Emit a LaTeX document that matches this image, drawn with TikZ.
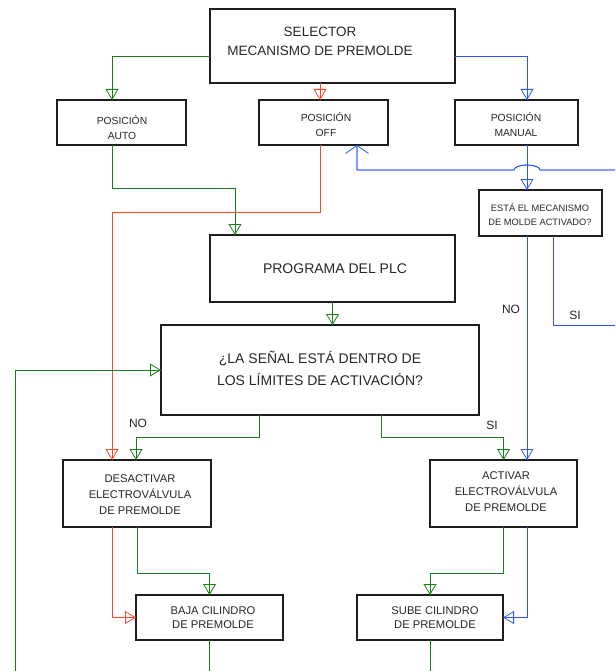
\documentclass[tikz,border=0pt]{standalone}
\usepackage{fontspec}
\setmainfont{Liberation Sans}
\usetikzlibrary{arrows.meta}
\definecolor{cg}{RGB}{25,125,25}
\definecolor{cr}{RGB}{255,70,40}
\definecolor{cb}{RGB}{45,85,255}
\definecolor{cbox}{RGB}{30,30,30}
\tikzset{
  box/.style={draw=cbox, line width=1.1pt, inner sep=0pt, outer sep=0pt},
  txt/.style={inner sep=0pt, align=center, text=black!85},
  big/.style={font=\fontsize{13.5}{19}\selectfont},
  bigq/.style={font=\fontsize{14}{22}\selectfont},
  mid/.style={font=\fontsize{11.2}{16}\selectfont},
  sml/.style={font=\fontsize{10.3}{15}\selectfont},
  tiny/.style={font=\fontsize{9.3}{14}\selectfont},
  lbl/.style={inner sep=0pt, text=black!85, font=\fontsize{12}{14}\selectfont},
  ln/.style={line width=0.8pt},
  arr/.style={ln, -{Triangle[open,length=11pt,width=13pt,line width=0.8pt]}, postaction={draw,-}},
  barb/.style={ln, -{Straight Barb[length=8pt,width=23pt,line width=0.8pt]}, postaction={draw,-}},
}
\begin{document}
\begin{tikzpicture}[x=1pt,y=-1pt]
\useasboundingbox (0,0) rectangle (615,671);
% boxes
\node[box, minimum width=245pt, minimum height=74pt] (sel) at (332.5,46) {};
\node[box, minimum width=129pt, minimum height=45pt] (auto) at (121.5,122.5) {};
\node[box, minimum width=129pt, minimum height=45pt] (off) at (323.5,122.5) {};
\node[box, minimum width=123pt, minimum height=45pt] (man) at (516.5,122.5) {};
\node[box, minimum width=123pt, minimum height=46pt] (esta) at (540.5,213) {};
\node[box, minimum width=245pt, minimum height=67pt] (plc) at (332.5,268.5) {};
\node[box, minimum width=318pt, minimum height=90pt] (sen) at (320,370) {};
\node[box, minimum width=148pt, minimum height=67pt] (des) at (137,493.5) {};
\node[box, minimum width=147pt, minimum height=67pt] (act) at (503.5,493.5) {};
\node[box, minimum width=147pt, minimum height=45pt] (baja) at (209.5,617.5) {};
\node[box, minimum width=146pt, minimum height=45pt] (sube) at (430,617.5) {};
% texts
\node[txt, big] (selT) at (320,41.5) {SELECTOR\\MECANISMO DE PREMOLDE};
\node[txt, sml] (autoT) at (122,127.5) {POSICIÓN\\AUTO};
\node[txt, sml] (offT) at (326,124.5) {POSICIÓN\\OFF};
\node[txt, sml] (manT) at (516,124.5) {POSICIÓN\\MANUAL};
\node[txt, tiny] (estaT) at (540,215) {ESTÁ EL MECANISMO\\DE MOLDE ACTIVADO?};
\node[txt, bigq] (plcT) at (335,269) {PROGRAMA DEL PLC};
\node[txt, bigq] (senT) at (320,368) {¿LA SEÑAL ESTÁ DENTRO DE\\LOS LÍMITES DE ACTIVACIÓN?};
\node[txt, mid] (desT) at (140,495) {DESACTIVAR\\ELECTROVÁLVULA\\DE PREMOLDE};
\node[txt, mid] (actT) at (506,491.5) {ACTIVAR\\ELECTROVÁLVULA\\DE PREMOLDE};
\node[txt, mid, font=\fontsize{11.2}{14}\selectfont] (bajaT) at (213,618) {BAJA CILINDRO\\DE PREMOLDE};
\node[txt, mid, font=\fontsize{11.2}{14}\selectfont] (subeT) at (435,618) {SUBE CILINDRO\\DE PREMOLDE};
% labels
\node[lbl] (no1) at (138,423) {NO};
\node[lbl] (si1) at (492,425) {SI};
\node[lbl] (no2) at (511,309) {NO};
\node[lbl] (si2) at (575,315) {SI};
% free ends
\coordinate (rin) at (615,170);
\coordinate (rout) at (615,325);
\coordinate (lin) at (15,671);
\coordinate (bout) at (209.5,671);
\coordinate (sout) at (430,671);
% connectors
\draw[cg, arr] ([yshift=-10pt]sel.west) -| ([xshift=-9.5pt]auto.north);
\draw[cr, arr] ([xshift=-12.5pt]sel.south) -- ([xshift=-3.5pt]off.north);
\draw[cb, arr] ([yshift=-10pt]sel.east) -| ([xshift=10.5pt]man.north);
\draw[cg, arr] ([xshift=-9.5pt]auto.south) -- (112,188) -- (235,188) -- ([xshift=-97.5pt]plc.north);
\draw[cr, arr] ([xshift=-3.5pt]off.south) -- (320,212) -- (112,212) -- ([xshift=-25pt]des.north);
\draw[cb, arr] ([xshift=10.5pt]man.south) -- ([xshift=-13.5pt]esta.north);
\draw[cb, barb] (rin) -- (540,170) arc[start angle=0, end angle=-180, x radius=13, y radius=5] -- (357,170) -- ([xshift=33.5pt]off.south);
\draw[cb, ln] ([xshift=12.5pt]esta.south) -- (553,325) -- (rout);
\draw[cb, arr] ([xshift=-13.5pt]esta.south) -- ([xshift=23.5pt]act.north);
\draw[cg, arr] (plc.south) -- ([xshift=12.5pt]sen.north);
\draw[cg, arr] ([xshift=-61pt]sen.south) -- (259,437) -- (136,437) -- ([xshift=-1pt]des.north);
\draw[cg, arr] ([xshift=61pt]sen.south) -- (381,437) -- (503.5,437) -- (act.north);
\draw[cg, arr] (lin) -- (15,370) -- (sen.west);
\draw[cr, arr] ([xshift=-25pt]des.south) -- (112,617.5) -- (baja.west);
\draw[cg, arr] (des.south) -- (137,573) -- (209.5,573) -- (baja.north);
\draw[cg, arr] (act.south) -- (503.5,573) -- (430,573) -- (sube.north);
\draw[cb, arr] ([xshift=23.5pt]act.south) -- (527,617.5) -- (sube.east);
\draw[cg, ln] (baja.south) -- (bout);
\draw[cg, ln] (sube.south) -- (sout);
\end{tikzpicture}
\end{document}
